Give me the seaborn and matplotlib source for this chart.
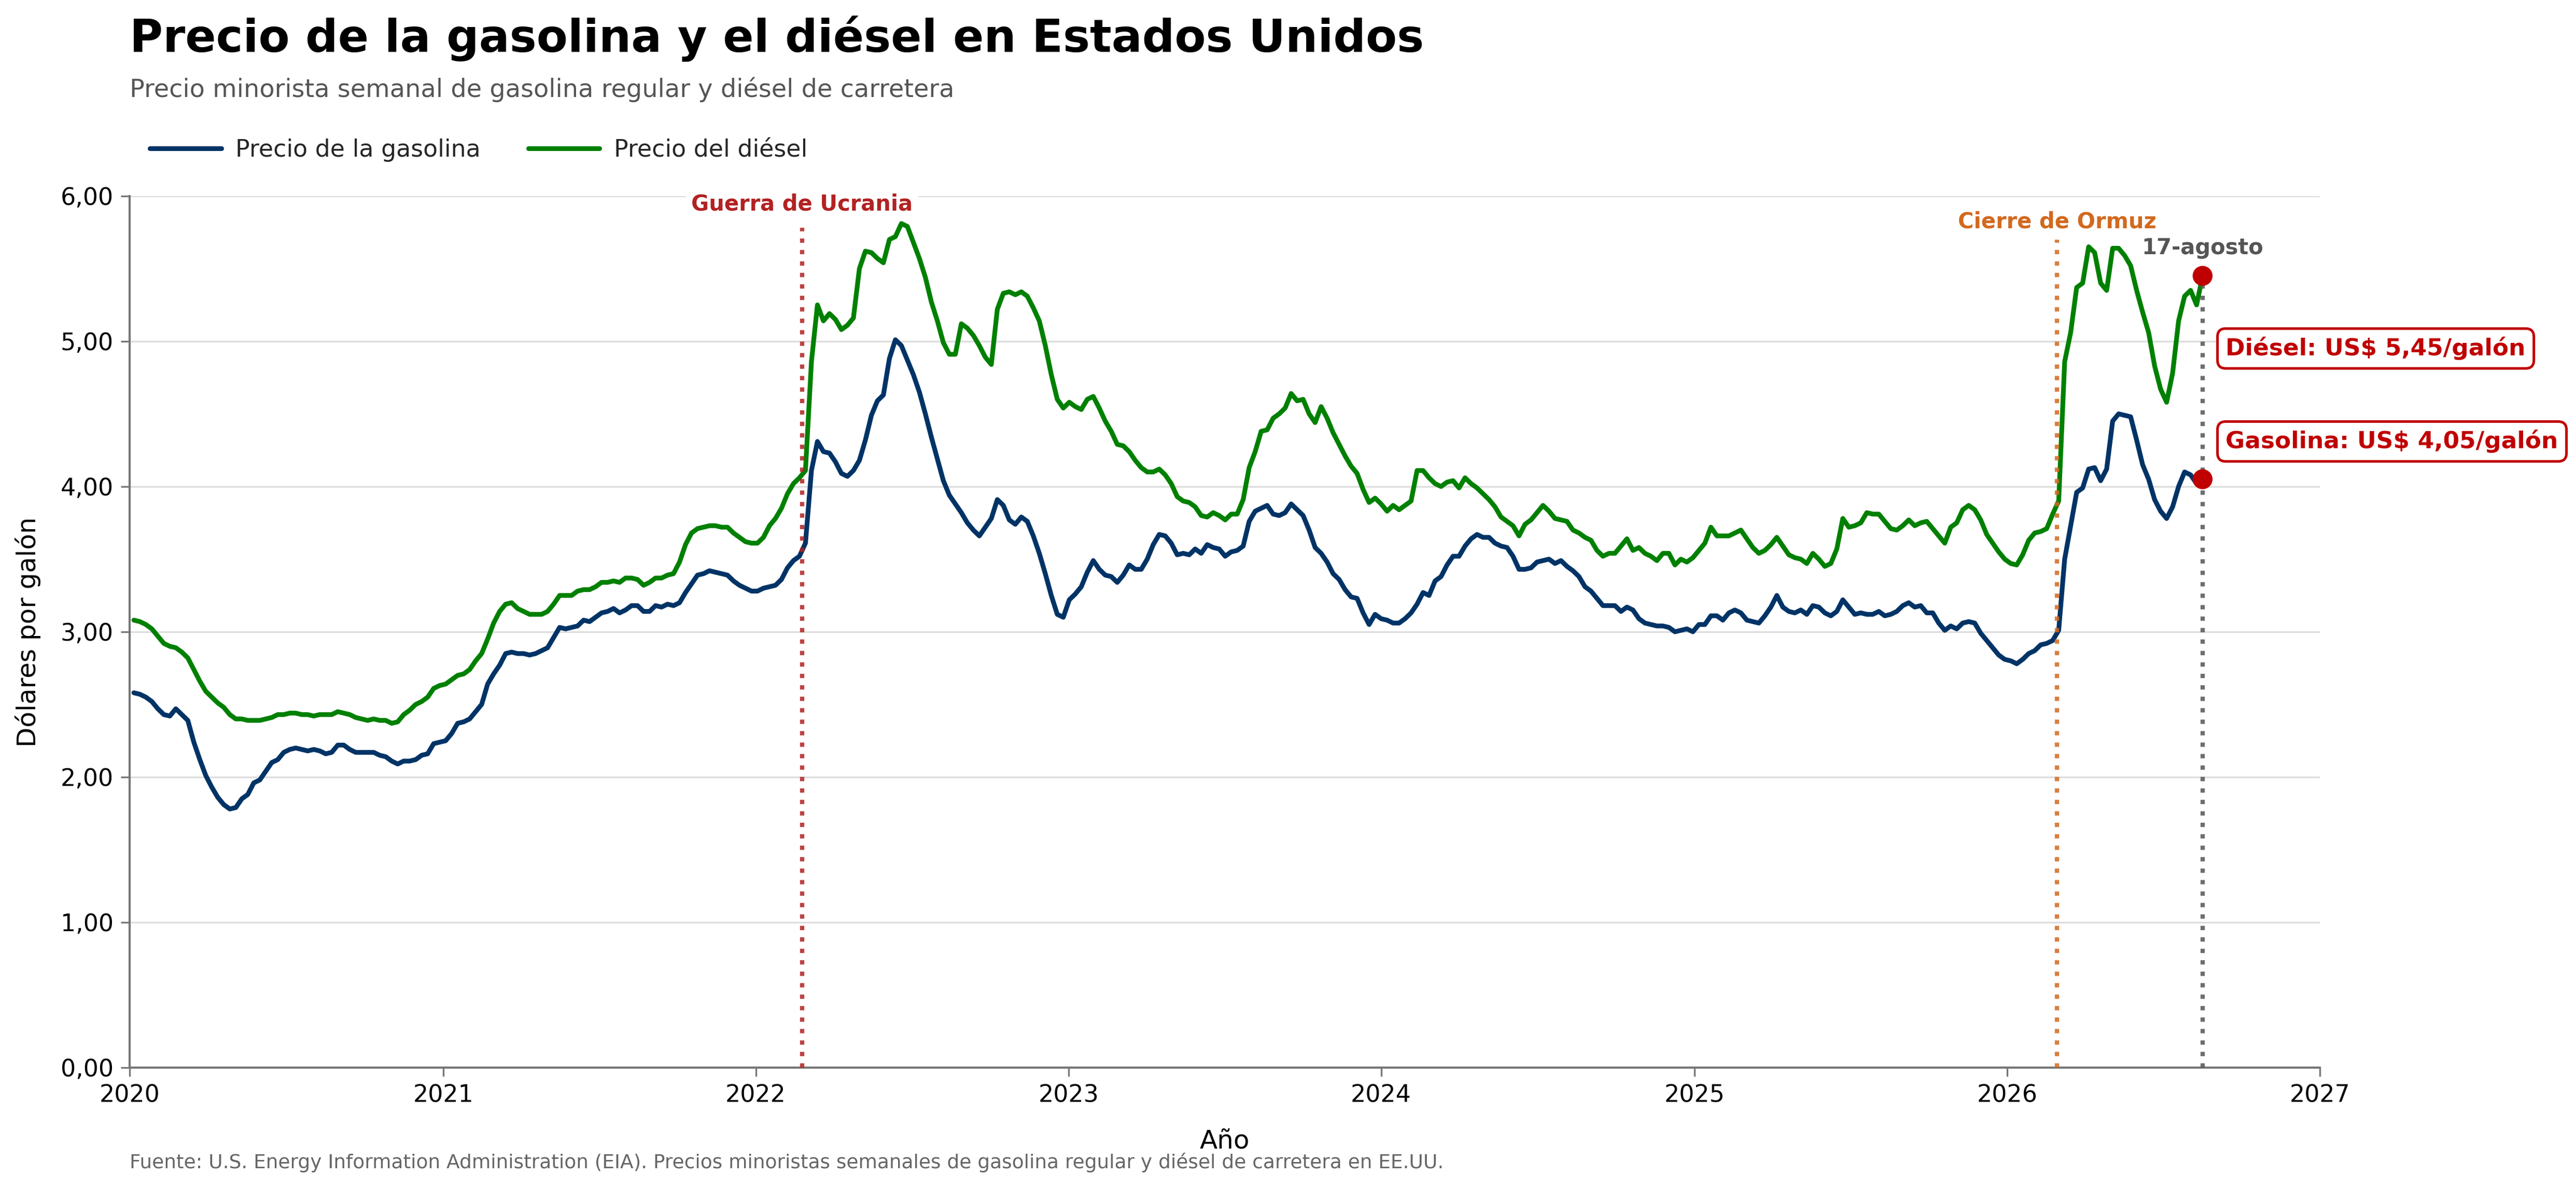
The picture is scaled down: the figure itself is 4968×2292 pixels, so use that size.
import numpy as np
import pandas as pd
import matplotlib
matplotlib.use("Agg")
import matplotlib.pyplot as plt
import matplotlib.dates as mdates
from matplotlib.ticker import FuncFormatter, FixedLocator
import seaborn as sns

# ---------------- data (weekly, Monday readings) ----------------
gas_2020 = [2.58, 2.57, 2.55, 2.52, 2.47, 2.43, 2.42, 2.47, 2.43, 2.39,
            2.24, 2.12, 2.01, 1.93, 1.86, 1.81, 1.78, 1.79, 1.85, 1.88,
            1.96, 1.98, 2.04, 2.10, 2.12, 2.17, 2.19, 2.20, 2.19, 2.18,
            2.19, 2.18, 2.16, 2.17, 2.22, 2.22, 2.19, 2.17, 2.17, 2.17,
            2.17, 2.15, 2.14, 2.11, 2.09, 2.11, 2.11, 2.12, 2.15, 2.16,
            2.23, 2.24]
gas_2021 = [2.25, 2.30, 2.37, 2.38, 2.40, 2.45, 2.50, 2.64, 2.71, 2.77,
            2.85, 2.86, 2.85, 2.85, 2.84, 2.85, 2.87, 2.89, 2.96, 3.03,
            3.02, 3.03, 3.04, 3.08, 3.07, 3.10, 3.13, 3.14, 3.16, 3.13,
            3.15, 3.18, 3.18, 3.14, 3.14, 3.18, 3.17, 3.19, 3.18, 3.20,
            3.27, 3.33, 3.39, 3.40, 3.42, 3.41, 3.40, 3.39, 3.35, 3.32,
            3.30, 3.28]
gas_2022 = [3.28, 3.30, 3.31, 3.32, 3.36, 3.44, 3.49, 3.52, 3.61, 4.11,
            4.31, 4.24, 4.23, 4.17, 4.09, 4.07, 4.11, 4.18, 4.32, 4.49,
            4.59, 4.63, 4.88, 5.01, 4.97, 4.87, 4.77, 4.65, 4.50, 4.34,
            4.19, 4.04, 3.94, 3.88, 3.82, 3.75, 3.70, 3.66, 3.72, 3.78,
            3.91, 3.87, 3.77, 3.74, 3.79, 3.76, 3.66, 3.54, 3.40, 3.25,
            3.12, 3.10]
gas_2023 = [3.22, 3.26, 3.31, 3.41, 3.49, 3.43, 3.39, 3.38, 3.34, 3.39,
            3.46, 3.43, 3.43, 3.50, 3.60, 3.67, 3.66, 3.61, 3.53, 3.54,
            3.53, 3.57, 3.54, 3.60, 3.58, 3.57, 3.52, 3.55, 3.56, 3.59,
            3.76, 3.83, 3.85, 3.87, 3.81, 3.80, 3.82, 3.88, 3.84, 3.80,
            3.70, 3.58, 3.54, 3.48, 3.40, 3.36, 3.29, 3.24, 3.23, 3.13,
            3.05, 3.12]
gas_2024 = [3.09, 3.08, 3.06, 3.06, 3.09, 3.13, 3.19, 3.27, 3.25, 3.35,
            3.38, 3.46, 3.52, 3.52, 3.59, 3.64, 3.67, 3.65, 3.65, 3.61,
            3.59, 3.58, 3.52, 3.43, 3.43, 3.44, 3.48, 3.49, 3.50, 3.47,
            3.49, 3.45, 3.42, 3.38, 3.31, 3.28, 3.23, 3.18, 3.18, 3.18,
            3.14, 3.17, 3.15, 3.09, 3.06, 3.05, 3.04, 3.04, 3.03, 3.00,
            3.01, 3.02, 3.00]
gas_2025 = [3.05, 3.05, 3.11, 3.11, 3.08, 3.13, 3.15, 3.13, 3.08, 3.07,
            3.06, 3.11, 3.17, 3.25, 3.17, 3.14, 3.13, 3.15, 3.12, 3.18,
            3.17, 3.13, 3.11, 3.14, 3.22, 3.17, 3.12, 3.13, 3.12, 3.12,
            3.14, 3.11, 3.12, 3.14, 3.18, 3.20, 3.17, 3.18, 3.13, 3.13,
            3.06, 3.01, 3.04, 3.02, 3.06, 3.07, 3.06, 2.99, 2.94, 2.89,
            2.84, 2.81]
gas_2026 = [2.80, 2.78, 2.81, 2.85, 2.87, 2.91, 2.92, 2.94, 3.01, 3.50,
            3.73, 3.96, 3.99, 4.12, 4.13, 4.04, 4.12, 4.45, 4.50, 4.49,
            4.48, 4.32, 4.15, 4.05, 3.91, 3.83, 3.78, 3.86, 4.00, 4.10,
            4.08, 4.02, 4.05]

dsl_2020 = [3.08, 3.07, 3.05, 3.02, 2.97, 2.92, 2.90, 2.89, 2.86, 2.82,
            2.74, 2.66, 2.59, 2.55, 2.51, 2.48, 2.43, 2.40, 2.40, 2.39,
            2.39, 2.39, 2.40, 2.41, 2.43, 2.43, 2.44, 2.44, 2.43, 2.43,
            2.42, 2.43, 2.43, 2.43, 2.45, 2.44, 2.43, 2.41, 2.40, 2.39,
            2.40, 2.39, 2.39, 2.37, 2.38, 2.43, 2.46, 2.50, 2.52, 2.55,
            2.61, 2.63]
dsl_2021 = [2.64, 2.67, 2.70, 2.71, 2.74, 2.80, 2.85, 2.95, 3.06, 3.14,
            3.19, 3.20, 3.16, 3.14, 3.12, 3.12, 3.12, 3.14, 3.19, 3.25,
            3.25, 3.25, 3.28, 3.29, 3.29, 3.31, 3.34, 3.34, 3.35, 3.34,
            3.37, 3.37, 3.36, 3.32, 3.34, 3.37, 3.37, 3.39, 3.40, 3.48,
            3.60, 3.68, 3.71, 3.72, 3.73, 3.73, 3.72, 3.72, 3.68, 3.65,
            3.62, 3.61]
dsl_2022 = [3.61, 3.65, 3.73, 3.78, 3.85, 3.95, 4.02, 4.06, 4.11, 4.86,
            5.25, 5.14, 5.19, 5.15, 5.08, 5.11, 5.16, 5.50, 5.62, 5.61,
            5.57, 5.54, 5.70, 5.72, 5.81, 5.79, 5.68, 5.57, 5.44, 5.27,
            5.14, 4.99, 4.91, 4.91, 5.12, 5.09, 5.04, 4.97, 4.89, 4.84,
            5.22, 5.33, 5.34, 5.32, 5.34, 5.31, 5.23, 5.14, 4.97, 4.77,
            4.60, 4.54]
dsl_2023 = [4.58, 4.55, 4.53, 4.60, 4.62, 4.54, 4.45, 4.38, 4.29, 4.28,
            4.24, 4.18, 4.13, 4.10, 4.10, 4.12, 4.08, 4.02, 3.93, 3.90,
            3.89, 3.86, 3.80, 3.79, 3.82, 3.80, 3.77, 3.81, 3.81, 3.91,
            4.13, 4.24, 4.38, 4.39, 4.47, 4.50, 4.54, 4.64, 4.59, 4.60,
            4.50, 4.44, 4.55, 4.47, 4.37, 4.29, 4.21, 4.14, 4.09, 3.98,
            3.89, 3.92]
dsl_2024 = [3.88, 3.83, 3.87, 3.84, 3.87, 3.90, 4.11, 4.11, 4.06, 4.02,
            4.00, 4.03, 4.04, 3.99, 4.06, 4.02, 3.99, 3.95, 3.91, 3.86,
            3.79, 3.76, 3.73, 3.66, 3.74, 3.77, 3.82, 3.87, 3.83, 3.78,
            3.77, 3.76, 3.70, 3.68, 3.65, 3.63, 3.56, 3.52, 3.54, 3.54,
            3.59, 3.64, 3.56, 3.58, 3.54, 3.52, 3.49, 3.54, 3.54, 3.46,
            3.50, 3.48, 3.51]
dsl_2025 = [3.56, 3.61, 3.72, 3.66, 3.66, 3.66, 3.68, 3.70, 3.64, 3.58,
            3.54, 3.56, 3.60, 3.65, 3.59, 3.53, 3.51, 3.50, 3.47, 3.54,
            3.50, 3.45, 3.47, 3.57, 3.78, 3.72, 3.73, 3.75, 3.82, 3.81,
            3.81, 3.76, 3.71, 3.70, 3.73, 3.77, 3.73, 3.75, 3.76, 3.71,
            3.66, 3.61, 3.72, 3.75, 3.84, 3.87, 3.84, 3.77, 3.67, 3.61,
            3.55, 3.50]
dsl_2026 = [3.47, 3.46, 3.53, 3.63, 3.68, 3.69, 3.71, 3.81, 3.90, 4.86,
            5.06, 5.37, 5.40, 5.65, 5.61, 5.40, 5.35, 5.64, 5.64, 5.59,
            5.52, 5.35, 5.20, 5.06, 4.83, 4.67, 4.58, 4.78, 5.14, 5.31,
            5.35, 5.25, 5.45]

last_date = "2026-08-17"
series_names = ["Precio de la gasolina", "Precio del diésel"]
series_colors = ["#003366", "#008000"]
events = [("2022-02-24", "Guerra de Ucrania", "#b22222"),
          ("2026-02-28", "Cierre de Ormuz", "#d2691e")]
y_ticks = [0, 1, 2, 3, 4, 5, 6]

gas = gas_2020 + gas_2021 + gas_2022 + gas_2023 + gas_2024 + gas_2025 + gas_2026
dsl = dsl_2020 + dsl_2021 + dsl_2022 + dsl_2023 + dsl_2024 + dsl_2025 + dsl_2026
dates = pd.date_range(end=last_date, periods=len(gas), freq="W-MON")

df = pd.concat([
    pd.DataFrame({"fecha": dates, "precio": gas, "serie": series_names[0]}),
    pd.DataFrame({"fecha": dates, "precio": dsl, "serie": series_names[1]}),
], ignore_index=True)

# ---------------- style ----------------
sns.set_theme(style="white")
plt.rcParams["font.family"] = ["DejaVu Sans"]

fig = plt.figure(figsize=(16.56, 7.64), dpi=300)
ax = fig.add_axes([0.0503, 0.1021, 0.8503, 0.7331])

sns.lineplot(data=df, x="fecha", y="precio", hue="serie",
             palette=dict(zip(series_names, series_colors)),
             linewidth=2.2, ax=ax, legend=False, zorder=2)

ax.set_ylim(0, 6)
ax.set_xlim(pd.Timestamp("2020-01-01"), pd.Timestamp("2027-01-01"))
ax.yaxis.set_major_locator(FixedLocator(y_ticks))
ax.yaxis.set_major_formatter(FuncFormatter(lambda v, p: f"{v:.2f}".replace(".", ",")))
ax.xaxis.set_major_locator(mdates.YearLocator())
ax.xaxis.set_major_formatter(mdates.DateFormatter("%Y"))

ax.grid(axis="y", color="#dddddd", linewidth=0.8, zorder=0)
ax.grid(axis="x", visible=False)
ax.set_axisbelow(True)
sns.despine(ax=ax)
for s in ["left", "bottom"]:
    ax.spines[s].set_color("#777777")
    ax.spines[s].set_linewidth(1.0)
ax.tick_params(axis="both", which="major", length=4, width=0.8, color="#777777",
               labelsize=11, labelcolor="black", bottom=True, left=True)

ax.set_xlabel("Año", fontsize=12, labelpad=10, color="black")
ax.set_ylabel("Dólares por galón", fontsize=12, labelpad=9, color="black")

# event lines
tops = [5.78, 5.70]
text_y = [5.90, 5.78]
for (d, lbl, col), top, ty in zip(events, tops, text_y):
    t = pd.Timestamp(d)
    ax.vlines(t, 0, top, colors=col, linestyles=":", linewidth=2.0, alpha=0.85, zorder=3)
    ax.text(t, ty, lbl, ha="center", va="baseline", fontsize=10, fontweight="bold",
            color=col, zorder=5,
            bbox=dict(boxstyle="square,pad=0.25", fc="white", ec="none"))

# last date marker
t_last = dates[-1]
ax.vlines(t_last, 0, dsl[-1], colors="#555555", linestyles=":", linewidth=2.0, alpha=0.85, zorder=3)
ax.text(t_last, 5.60, "17-agosto", ha="center", va="baseline", fontsize=10,
        fontweight="bold", color="#555555", zorder=5)
ax.scatter([t_last, t_last], [dsl[-1], gas[-1]], s=85, color="#c00000", zorder=6,
           edgecolors="none")

lbl_x = t_last + pd.Timedelta(days=27)
box = dict(boxstyle="round,pad=0.35", fc="white", ec="#c00000", lw=1.2)
ax.text(lbl_x, 4.95, f"Diésel: US$ {dsl[-1]:.2f}/galón".replace(".", ","),
        ha="left", va="center", fontsize=10.9, fontweight="bold", color="#c00000",
        bbox=box, zorder=7, clip_on=False)
ax.text(lbl_x, 4.31, f"Gasolina: US$ {gas[-1]:.2f}/galón".replace(".", ","),
        ha="left", va="center", fontsize=10.9, fontweight="bold", color="#c00000",
        bbox=box, zorder=7, clip_on=False)

# legend
lines = ax.get_lines()[:2]
fig.legend(lines, series_names, loc="center left", bbox_to_anchor=(0.0545, 0.8735),
           ncol=2, frameon=False, fontsize=11, handlelength=3.0, handletextpad=0.6,
           columnspacing=2.0, borderaxespad=0, borderpad=0.4)

# titles
fig.text(0.0503, 0.9564, "Precio de la gasolina y el diésel en Estados Unidos",
         ha="left", va="baseline", fontsize=21, fontweight="bold", color="black")
fig.text(0.0503, 0.9184, "Precio minorista semanal de gasolina regular y diésel de carretera",
         ha="left", va="baseline", fontsize=11.5, color="#555555")
fig.text(0.0503, 0.0175,
         "Fuente: U.S. Energy Information Administration (EIA). Precios minoristas semanales "
         "de gasolina regular y diésel de carretera en EE.UU.",
         ha="left", va="baseline", fontsize=9, color="#666666")

fig.savefig("out.png", dpi=300)
